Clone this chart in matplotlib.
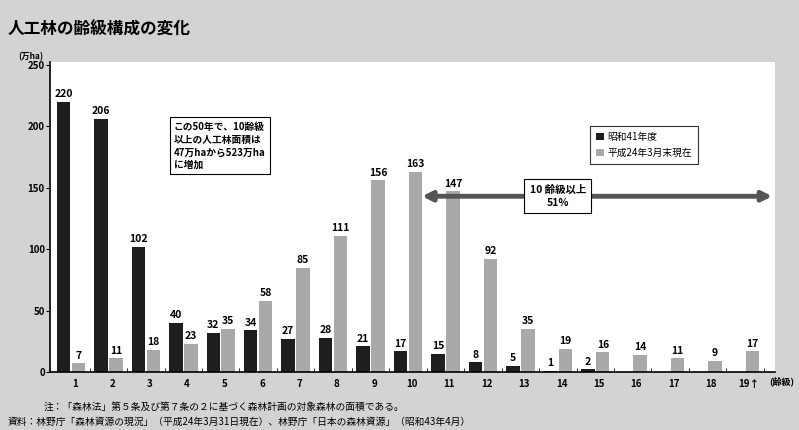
import numpy as np
import matplotlib as mpl
import matplotlib.pyplot as plt
from matplotlib.patches import FancyArrowPatch

mpl.rcParams['font.family'] = ['Noto Sans CJK JP', 'DejaVu Sans']

# data (万ha)
age_classes = ['1', '2', '3', '4', '5', '6', '7', '8', '9', '10',
               '11', '12', '13', '14', '15', '16', '17', '18', '19\u2191']
area_s41 = [220, 206, 102, 40, 32, 34, 27, 28, 21, 17,
            15, 8, 5, 1, 2, 0, 0, 0, 0]
area_h24 = [7, 11, 18, 23, 35, 58, 85, 111, 156, 163,
            147, 92, 35, 19, 16, 14, 11, 9, 17]
legend_labels = ['昭和41年度', '平成24年3月末現在']

BG = '#d3d3d3'
DARK = '#1e1e1e'
LIGHT = '#a9a9a9'

fig = plt.figure(figsize=(7.99, 4.30), dpi=100, facecolor=BG)
ax = fig.add_axes([0.063, 0.135, 0.907, 0.72])
ax.set_facecolor('white')

x = np.arange(1, len(age_classes) + 1)
w = 0.36
off = 0.2
ax.bar(x - off, area_s41, w, color=DARK, label=legend_labels[0])
ax.bar(x + off, area_h24, w, color=LIGHT, label=legend_labels[1])

# value labels
for xi, v in zip(x, area_s41):
    if v > 0:
        ax.text(xi - off, v + 2, str(v), ha='center', va='bottom',
                fontsize=7.5, fontweight='bold')
for xi, v in zip(x, area_h24):
    ax.text(xi + off, v + 2, str(v), ha='center', va='bottom',
            fontsize=7.5, fontweight='bold')

ax.set_xlim(0.45, 19.8)
ax.set_ylim(0, 252)
ax.set_yticks([0, 50, 100, 150, 200, 250])
ax.set_yticklabels(['0', '50', '100', '150', '200', '250'],
                   fontsize=7, fontweight='bold')
ax.set_xticks(x + 0.1)
ax.set_xticklabels(age_classes, fontsize=7, fontweight='bold')
ax.tick_params(axis='x', length=0, pad=5)
ax.tick_params(axis='y', length=3, direction='out', pad=1)
# small ticks between groups
ax.set_xticks(np.arange(1.5, 19.6, 1), minor=True)
ax.tick_params(axis='x', which='minor', length=3, direction='in')

for s in ['top', 'right']:
    ax.spines[s].set_visible(False)
ax.spines['left'].set_linewidth(1.2)
ax.spines['bottom'].set_linewidth(1.2)

# unit labels
fig.text(0.038, 0.862, '(万ha)', fontsize=6, fontweight='bold', ha='center')
fig.text(0.978, 0.113, '(齢級)', fontsize=6.5, fontweight='bold',
         ha='center', va='center')

# title
fig.text(0.01, 0.93, '人工林の齢級構成の変化', fontsize=12, fontweight='bold',
         ha='left', va='center')

# legend
leg = ax.legend(loc='upper left', bbox_to_anchor=(0.738, 0.81),
                fontsize=7, frameon=True, fancybox=False, edgecolor='black',
                handlelength=0.8, handleheight=0.8, handletextpad=0.4,
                borderpad=0.6, labelspacing=0.6)
leg.get_frame().set_linewidth(0.8)

# annotation box
ax.text(3.75, 184, 'この50年で、10齢級\n以上の人工林面積は\n47万haから523万ha\nに増加',
        fontsize=7, fontweight='bold', ha='left', va='center', linespacing=1.35,
        bbox=dict(boxstyle='square,pad=0.45', facecolor='white',
                  edgecolor='black', linewidth=0.8))

# arrow for 10+ age classes
arr = FancyArrowPatch((10.3, 143), (19.8, 143), arrowstyle='<|-|>',
                      mutation_scale=14, color='#555555', linewidth=3.5,
                      zorder=3)
ax.add_patch(arr)
ax.text(14.0, 143, '10 齢級以上\n51%', fontsize=7.5, fontweight='bold',
        ha='center', va='center', zorder=4, linespacing=1.4,
        bbox=dict(boxstyle='square,pad=0.5', facecolor='white',
                  edgecolor='black', linewidth=0.8))

# notes
fig.text(0.055, 0.055,
         '注：「森林法」第５条及び第７条の２に基づく森林計画の対象森林の面積である。',
         fontsize=7, ha='left', va='center')
fig.text(0.01, 0.02,
         '資料：林野庁「森林資源の現況」（平成24年3月31日現在）、林野庁「日本の森林資源」（昭和43年4月）',
         fontsize=7, ha='left', va='center')

fig.savefig('out.png', dpi=100, facecolor=BG)
